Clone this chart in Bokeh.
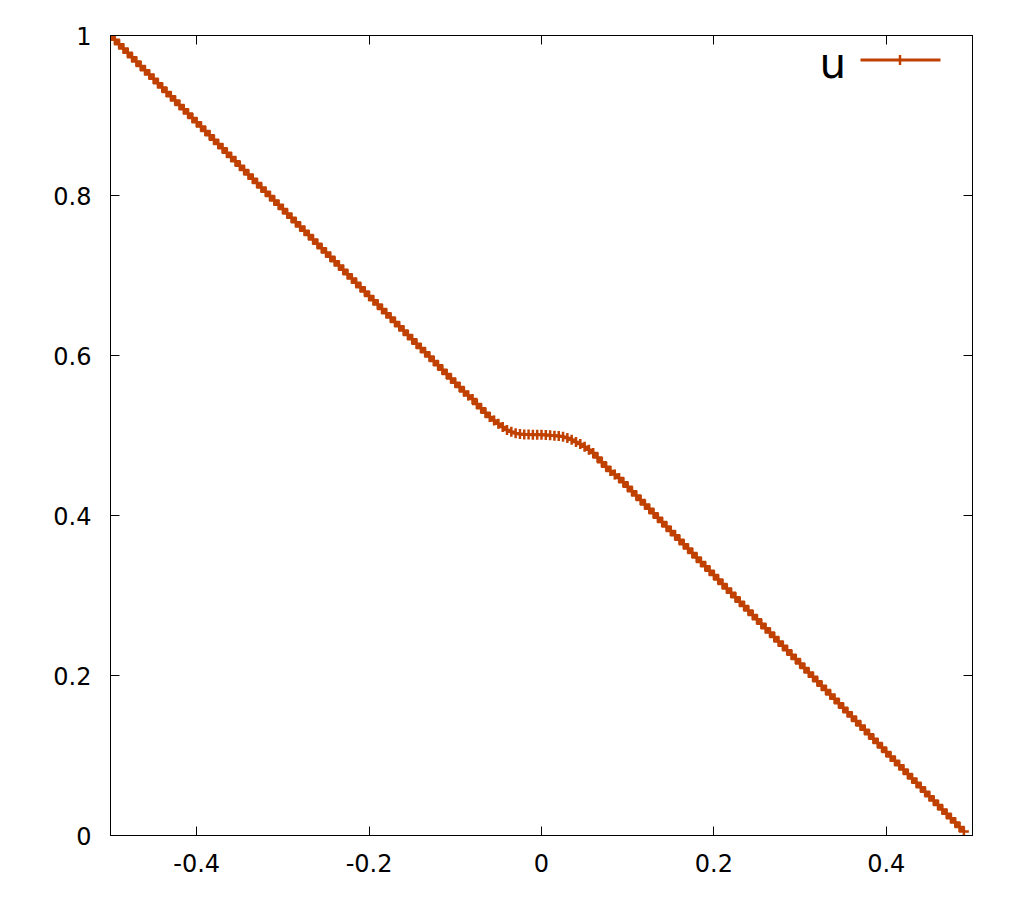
from bokeh.plotting import figure
from bokeh.models import (LinearAxis, FixedTicker, NumeralTickFormatter, Range1d,
                          Label, Arrow, CustomLabelingPolicy)
from bokeh.embed import file_html
from bokeh.resources import INLINE

# ---- data ----
series_name = "u"

x_vals = [
    -0.500, -0.495, -0.490, -0.485, -0.480, -0.475, -0.470, -0.465, -0.460, -0.455,
    -0.450, -0.445, -0.440, -0.435, -0.430, -0.425, -0.420, -0.415, -0.410, -0.405,
    -0.400, -0.395, -0.390, -0.385, -0.380, -0.375, -0.370, -0.365, -0.360, -0.355,
    -0.350, -0.345, -0.340, -0.335, -0.330, -0.325, -0.320, -0.315, -0.310, -0.305,
    -0.300, -0.295, -0.290, -0.285, -0.280, -0.275, -0.270, -0.265, -0.260, -0.255,
    -0.250, -0.245, -0.240, -0.235, -0.230, -0.225, -0.220, -0.215, -0.210, -0.205,
    -0.200, -0.195, -0.190, -0.185, -0.180, -0.175, -0.170, -0.165, -0.160, -0.155,
    -0.150, -0.145, -0.140, -0.135, -0.130, -0.125, -0.120, -0.115, -0.110, -0.105,
    -0.100, -0.095, -0.090, -0.085, -0.080, -0.075, -0.070, -0.065, -0.060, -0.055,
    -0.050, -0.045, -0.040, -0.035, -0.030, -0.025, -0.020, -0.015, -0.010, -0.005,
    0.000, 0.005, 0.010, 0.015, 0.020, 0.025, 0.030, 0.035, 0.040, 0.045,
    0.050, 0.055, 0.060, 0.065, 0.070, 0.075, 0.080, 0.085, 0.090, 0.095,
    0.100, 0.105, 0.110, 0.115, 0.120, 0.125, 0.130, 0.135, 0.140, 0.145,
    0.150, 0.155, 0.160, 0.165, 0.170, 0.175, 0.180, 0.185, 0.190, 0.195,
    0.200, 0.205, 0.210, 0.215, 0.220, 0.225, 0.230, 0.235, 0.240, 0.245,
    0.250, 0.255, 0.260, 0.265, 0.270, 0.275, 0.280, 0.285, 0.290, 0.295,
    0.300, 0.305, 0.310, 0.315, 0.320, 0.325, 0.330, 0.335, 0.340, 0.345,
    0.350, 0.355, 0.360, 0.365, 0.370, 0.375, 0.380, 0.385, 0.390, 0.395,
    0.400, 0.405, 0.410, 0.415, 0.420, 0.425, 0.430, 0.435, 0.440, 0.445,
    0.450, 0.455, 0.460, 0.465, 0.470, 0.475, 0.480, 0.485, 0.490,
]

u_vals = [
    1.0000, 0.9946, 0.9892, 0.9837, 0.9783, 0.9729, 0.9675, 0.9620, 0.9566, 0.9512,
    0.9458, 0.9403, 0.9349, 0.9295, 0.9241, 0.9186, 0.9132, 0.9078, 0.9024, 0.8969,
    0.8915, 0.8861, 0.8807, 0.8752, 0.8698, 0.8644, 0.8590, 0.8535, 0.8481, 0.8427,
    0.8373, 0.8318, 0.8264, 0.8210, 0.8156, 0.8101, 0.8047, 0.7993, 0.7939, 0.7884,
    0.7830, 0.7776, 0.7722, 0.7667, 0.7613, 0.7559, 0.7505, 0.7450, 0.7396, 0.7342,
    0.7288, 0.7233, 0.7179, 0.7125, 0.7071, 0.7016, 0.6962, 0.6908, 0.6854, 0.6799,
    0.6745, 0.6691, 0.6637, 0.6582, 0.6528, 0.6474, 0.6420, 0.6365, 0.6311, 0.6257,
    0.6203, 0.6148, 0.6094, 0.6040, 0.5986, 0.5931, 0.5877, 0.5823, 0.5769, 0.5714,
    0.5660, 0.5605, 0.5550, 0.5500, 0.5455, 0.5395, 0.5340, 0.5285, 0.5232, 0.5188,
    0.5146, 0.5105, 0.5070, 0.5046, 0.5028, 0.5018, 0.5013, 0.5011, 0.5010, 0.5009,
    0.5008, 0.5005, 0.5002, 0.4998, 0.4993, 0.4984, 0.4970, 0.4948, 0.4920, 0.4893,
    0.4860, 0.4822, 0.4780, 0.4725, 0.4666, 0.4610, 0.4556, 0.4512, 0.4470, 0.4415,
    0.4360, 0.4304, 0.4249, 0.4194, 0.4139, 0.4083, 0.4028, 0.3973, 0.3918, 0.3862,
    0.3807, 0.3752, 0.3697, 0.3641, 0.3586, 0.3531, 0.3476, 0.3420, 0.3365, 0.3310,
    0.3255, 0.3199, 0.3144, 0.3089, 0.3034, 0.2978, 0.2923, 0.2868, 0.2813, 0.2757,
    0.2702, 0.2647, 0.2592, 0.2536, 0.2481, 0.2426, 0.2371, 0.2315, 0.2260, 0.2205,
    0.2150, 0.2094, 0.2039, 0.1984, 0.1929, 0.1873, 0.1818, 0.1763, 0.1708, 0.1652,
    0.1597, 0.1542, 0.1487, 0.1431, 0.1376, 0.1321, 0.1266, 0.1210, 0.1155, 0.1100,
    0.1045, 0.0989, 0.0934, 0.0879, 0.0824, 0.0768, 0.0713, 0.0658, 0.0603, 0.0547,
    0.0492, 0.0437, 0.0382, 0.0326, 0.0271, 0.0216, 0.0161, 0.0105, 0.0050,
]

x_ticks = [-0.4, -0.2, 0, 0.2, 0.4]
y_ticks = [0, 0.2, 0.4, 0.6, 0.8, 1]

# ---- styling ----
COLOR = "#C04000"
FONT = "DejaVu Sans"
TICK_FONT_SIZE = "24px"

p = figure(frame_width=862, frame_height=800,
           min_border_left=110, min_border_top=35,
           min_border_right=40, min_border_bottom=55,
           x_range=Range1d(-0.5, 0.5), y_range=Range1d(0, 1),
           x_axis_location=None, y_axis_location=None,
           output_backend="svg", toolbar_location=None)
p.xgrid.visible = False
p.ygrid.visible = False
p.outline_line_color = "black"
p.outline_line_width = 1
p.outline_line_alpha = 1
p.background_fill_color = "white"
p.border_fill_color = "white"


def make_axis(ticks, show_labels, standoff):
    ax = LinearAxis(ticker=FixedTicker(ticks=ticks),
                    formatter=NumeralTickFormatter(format="0.[0]"))
    ax.major_tick_in = 9
    ax.major_tick_out = 0
    ax.minor_tick_in = 0
    ax.minor_tick_out = 0
    ax.axis_line_color = "black"
    ax.axis_line_width = 1
    ax.major_tick_line_color = "black"
    ax.major_tick_line_width = 1
    ax.major_label_text_font = FONT
    ax.major_label_text_color = "black"
    if show_labels:
        ax.major_label_text_font_size = TICK_FONT_SIZE
        ax.major_label_standoff = standoff
    else:
        ax.major_label_text_font_size = "1px"
        ax.major_label_standoff = 0
        ax.major_label_policy = CustomLabelingPolicy(code="return new Set()")
    return ax


p.add_layout(make_axis(x_ticks, True, 18), "below")
p.add_layout(make_axis(y_ticks, True, 19), "left")
p.add_layout(make_axis(x_ticks, False, 0), "above")
p.add_layout(make_axis(y_ticks, False, 0), "right")

r_line = p.line(x_vals, u_vals, line_color=COLOR, line_width=3)
r_pts = p.scatter(x_vals, u_vals, marker="cross", size=10,
                  line_color=COLOR, line_width=2.5)

# legend (gnuplot style: title left of the sample)
p.add_layout(Arrow(x_start=750, y_start=775.5, x_end=830, y_end=775.5,
                   start_units="screen", end_units="screen",
                   start=None, end=None, line_color=COLOR, line_width=3))
p.add_layout(Arrow(x_start=789.5, y_start=770.5, x_end=789.5, y_end=780.5,
                   start_units="screen", end_units="screen",
                   start=None, end=None, line_color=COLOR, line_width=2.5))
p.add_layout(Label(x=709, y=772, x_units="screen", y_units="screen",
                   text=series_name, text_font=FONT, text_font_size="42px",
                   text_color="black", text_baseline="alphabetic"))

open("out.html", "w").write(file_html(p, INLINE))
